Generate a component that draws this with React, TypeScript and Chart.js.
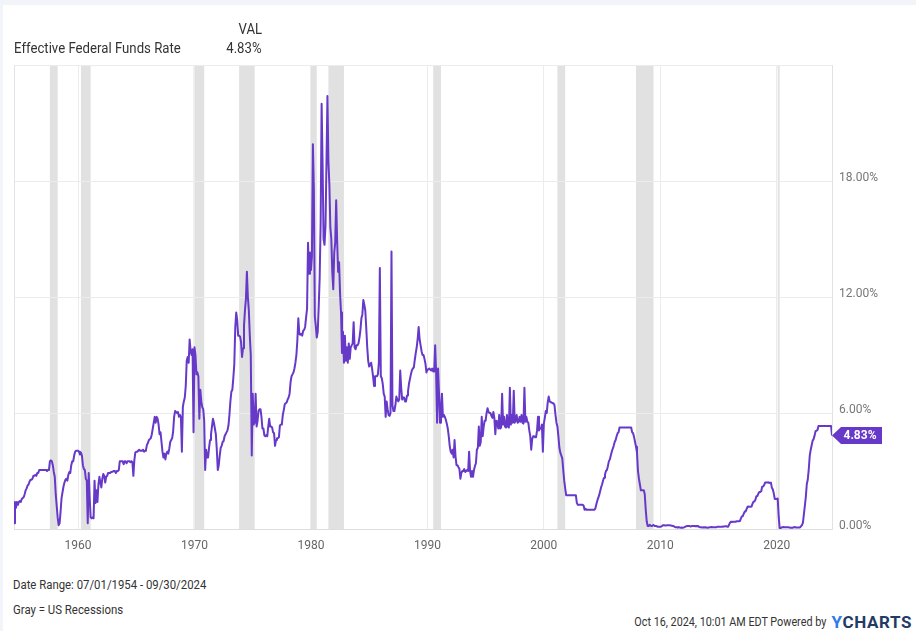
import React, { useEffect, useRef } from 'react';
import { Chart, registerables } from 'chart.js';

Chart.register(...registerables);

// ---------- data ----------
const seriesName = 'Effective Federal Funds Rate';
const seriesStart = '1954-07';
const latestDate = '2024-09-30';
const latestValue = 4.83;

// monthly readings, 1954-07 .. 1959-12
const rates1950s = [
  0.30, 1.40, 1.10, 1.40, 1.25, 1.40,
  1.45, 1.40, 1.55, 1.60, 1.65, 1.80, 2.00, 2.10, 2.25, 2.30, 2.45, 2.55,
  2.55, 2.60, 2.75, 2.75, 2.80, 2.75, 2.90, 2.90, 3.05, 3.05, 3.05, 3.05,
  3.05, 3.05, 3.05, 3.05, 3.00, 3.05, 3.05, 3.50, 3.55, 3.50, 3.30, 2.95,
  2.70, 1.80, 1.20, 0.60, 0.20, 0.30, 0.90, 1.60, 1.90, 2.20, 2.40, 2.55,
  2.60, 2.50, 2.80, 2.95, 2.90, 3.30, 3.50, 3.50, 3.80, 4.00, 4.05, 4.05,
];
const rates1960s = [
  4.05, 4.00, 3.85, 3.95, 3.80, 3.30, 3.10, 3.05, 2.60, 2.50, 0.30, 2.90,
  1.60, 0.60, 0.55, 0.60, 0.55, 2.50, 1.35, 2.00, 1.40, 2.30, 2.70, 2.40,
  2.15, 2.60, 2.85, 2.75, 2.40, 2.70, 2.75, 2.90, 2.90, 2.90, 2.95, 2.95,
  2.95, 3.00, 3.00, 2.90, 3.00, 3.00, 3.05, 3.50, 3.50, 3.50, 3.50, 3.35,
  3.50, 3.50, 3.40, 3.50, 3.50, 3.50, 3.45, 3.50, 3.45, 2.75, 3.55, 3.95,
  4.00, 4.00, 4.05, 4.10, 4.05, 4.05, 4.05, 4.10, 4.00, 4.05, 4.10, 4.35,
  4.45, 4.60, 4.65, 4.70, 4.90, 5.20, 5.50, 5.80, 5.50, 5.80, 5.70, 5.40,
  4.90, 5.00, 4.50, 4.00, 3.70, 3.90, 3.60, 3.90, 4.00, 3.90, 4.15, 4.50,
  4.60, 4.70, 5.05, 5.80, 6.10, 6.05, 6.00, 6.05, 5.80, 5.90, 5.80, 4.00,
  6.30, 6.60, 6.80, 7.40, 8.70, 8.90, 8.60, 9.80, 9.20, 9.00, 9.30, 5.00,
];
const rates1970s = [
  9.40, 9.00, 8.00, 8.10, 7.90, 5.70, 7.20, 6.60, 6.30, 6.20, 5.60, 3.05,
  4.10, 3.70, 3.70, 4.20, 4.60, 4.90, 5.30, 5.70, 5.50, 5.20, 4.90, 4.10,
  3.05, 3.30, 3.80, 4.20, 4.30, 4.50, 4.55, 4.80, 4.90, 5.00, 5.10, 5.35,
  5.90, 6.60, 7.10, 7.20, 7.80, 8.50, 10.40, 11.20, 10.80, 10.00, 10.00, 9.95,
  9.65, 8.90, 9.35, 10.50, 11.30, 11.90, 13.30, 12.00, 11.30, 10.00, 9.00, 3.80,
  7.00, 5.40, 5.50, 7.00, 5.30, 5.60, 6.10, 6.20, 6.20, 5.80, 5.20, 5.20,
  4.85, 4.80, 4.85, 4.80, 5.30, 5.70, 5.30, 5.30, 5.25, 5.00, 4.95, 4.30,
  4.60, 4.70, 4.70, 4.75, 5.35, 5.40, 5.40, 5.90, 6.15, 6.45, 6.50, 6.55,
  6.70, 6.80, 7.00, 7.60, 7.90, 8.00, 8.10, 8.30, 8.60, 9.00, 9.75, 10.90,
  10.10, 10.05, 10.10, 10.00, 10.25, 10.30, 10.45, 10.95, 11.40, 14.80, 13.20, 14.30,
];
const rates1980s = [
  13.40, 14.10, 19.90, 17.60, 11.00, 10.50, 9.90, 10.20, 11.50, 13.00, 15.80, 22.00,
  18.90, 15.00, 14.70, 15.70, 18.90, 22.40, 19.00, 17.80, 15.60, 15.00, 13.30, 12.40,
  14.30, 14.80, 17.00, 14.90, 13.30, 13.80, 12.20, 11.20, 9.10, 10.20, 8.60, 10.00,
  8.70, 9.40, 8.60, 9.60, 8.80, 9.40, 9.50, 9.60, 10.70, 9.40, 9.30, 9.50,
  9.50, 9.60, 9.90, 10.30, 10.90, 11.10, 11.85, 11.60, 11.30, 10.40, 9.40, 8.70,
  8.40, 8.50, 8.60, 8.30, 7.90, 7.40, 7.90, 7.90, 7.90, 8.00, 8.60, 13.50,
  7.90, 7.80, 7.50, 7.00, 6.85, 5.80, 6.60, 6.20, 5.90, 5.85, 6.00, 14.35,
  6.40, 6.10, 6.10, 6.40, 6.85, 6.70, 6.60, 6.70, 8.20, 7.30, 6.70, 6.80,
  6.80, 6.60, 6.60, 6.90, 7.10, 7.50, 7.75, 8.00, 8.20, 8.30, 8.35, 8.75,
  9.10, 9.40, 9.85, 10.45, 9.80, 9.50, 9.20, 9.00, 9.00, 8.80, 8.55, 8.10,
];
const rates1990s = [
  8.25, 8.25, 8.30, 8.25, 8.20, 8.30, 8.15, 8.15, 9.50, 8.10, 5.50, 8.30,
  7.00, 5.50, 6.20, 7.00, 5.80, 5.90, 5.80, 5.65, 5.45, 5.20, 4.80, 4.30,
  4.00, 3.90, 4.10, 3.70, 4.60, 3.75, 3.30, 3.30, 3.20, 3.10, 2.60, 2.90,
  3.00, 3.00, 3.10, 2.95, 3.00, 3.05, 3.00, 4.00, 3.00, 2.70, 3.00, 2.70,
  3.05, 3.25, 3.40, 4.10, 4.20, 5.30, 4.30, 4.50, 5.80, 4.80, 5.30, 5.60,
  5.60, 6.00, 6.25, 6.05, 6.00, 6.00, 5.85, 5.75, 6.05, 5.75, 4.90, 5.60,
  5.55, 5.20, 5.90, 5.20, 5.25, 7.00, 5.40, 5.80, 5.30, 5.25, 5.90, 5.30,
  5.25, 7.30, 5.40, 5.90, 5.50, 7.15, 5.50, 5.60, 5.90, 5.50, 5.55, 5.80,
  5.55, 5.90, 5.50, 5.45, 7.30, 5.55, 5.80, 5.55, 5.50, 5.10, 4.80, 4.10,
  4.65, 4.80, 4.80, 4.75, 4.75, 5.10, 5.80, 5.10, 5.20, 5.20, 5.40, 4.00,
];
const rates2000s = [
  5.45, 5.75, 6.10, 6.00, 6.55, 6.85, 6.60, 6.55, 6.55, 6.50, 6.50, 6.40,
  5.90, 5.50, 5.30, 4.80, 4.20, 3.95, 3.80, 3.65, 3.05, 2.50, 2.10, 1.75,
  1.75, 1.75, 1.75, 1.75, 1.75, 1.75, 1.75, 1.75, 1.75, 1.75, 1.35, 1.25,
  1.25, 1.25, 1.25, 1.25, 1.25, 1.20, 1.00, 1.05, 1.00, 1.00, 1.00, 1.00,
  1.00, 1.00, 1.00, 1.00, 1.00, 1.05, 1.25, 1.45, 1.60, 1.75, 1.95, 2.15,
  2.30, 2.50, 2.65, 2.80, 3.00, 3.05, 3.25, 3.50, 3.60, 3.80, 4.00, 4.15,
  4.30, 4.50, 4.60, 4.80, 4.95, 5.00, 5.25, 5.25, 5.25, 5.25, 5.25, 5.25,
  5.25, 5.25, 5.25, 5.25, 5.25, 5.25, 5.25, 5.00, 4.95, 4.75, 4.50, 4.25,
  3.95, 3.00, 2.60, 2.30, 2.00, 2.00, 2.00, 2.00, 1.80, 1.00, 0.40, 0.15,
  0.15, 0.22, 0.18, 0.15, 0.18, 0.21, 0.16, 0.16, 0.15, 0.12, 0.12, 0.12,
];
const rates2010s = [
  0.11, 0.13, 0.16, 0.20, 0.20, 0.18, 0.18, 0.19, 0.19, 0.19, 0.19, 0.18,
  0.17, 0.16, 0.14, 0.10, 0.09, 0.09, 0.07, 0.10, 0.08, 0.07, 0.08, 0.07,
  0.08, 0.10, 0.13, 0.14, 0.16, 0.16, 0.16, 0.13, 0.14, 0.16, 0.16, 0.16,
  0.14, 0.15, 0.14, 0.15, 0.11, 0.09, 0.09, 0.08, 0.08, 0.09, 0.08, 0.09,
  0.07, 0.07, 0.08, 0.09, 0.09, 0.10, 0.09, 0.09, 0.09, 0.09, 0.09, 0.12,
  0.11, 0.11, 0.11, 0.12, 0.12, 0.13, 0.13, 0.14, 0.14, 0.12, 0.12, 0.24,
  0.34, 0.38, 0.36, 0.37, 0.37, 0.38, 0.39, 0.40, 0.40, 0.40, 0.41, 0.54,
  0.65, 0.66, 0.79, 0.90, 0.91, 1.04, 1.15, 1.16, 1.15, 1.15, 1.16, 1.30,
  1.41, 1.42, 1.51, 1.69, 1.70, 1.82, 1.91, 1.91, 1.95, 2.19, 2.20, 2.27,
  2.40, 2.40, 2.41, 2.42, 2.39, 2.38, 2.40, 2.13, 2.04, 1.83, 1.55, 1.55,
];
// 2020-01 .. 2024-09
const rates2020s = [
  1.55, 1.58, 0.65, 0.05, 0.05, 0.08, 0.09, 0.10, 0.09, 0.09, 0.09, 0.09,
  0.09, 0.08, 0.07, 0.07, 0.06, 0.08, 0.10, 0.09, 0.08, 0.08, 0.08, 0.08,
  0.08, 0.08, 0.20, 0.33, 0.77, 1.21, 1.68, 2.33, 2.56, 3.08, 3.78, 4.10,
  4.33, 4.57, 4.65, 4.83, 5.06, 5.08, 5.12, 5.33, 5.33, 5.33, 5.33, 5.33,
  5.33, 5.33, 5.33, 5.33, 5.33, 5.33, 5.33, 5.33, 5.33,
];

const recessionStarts = ['1957-08', '1960-04', '1969-12', '1973-11', '1980-01', '1981-07', '1990-07', '2001-03', '2007-12', '2020-02'];
const recessionEnds = ['1958-04', '1961-02', '1970-11', '1975-03', '1980-07', '1982-11', '1991-03', '2001-11', '2009-06', '2020-04'];

const xTickYears = [1960, 1970, 1980, 1990, 2000, 2010, 2020];
const yTickValues = [0, 6, 12, 18, 24];

// ---------- styles ----------
const PURPLE = '#6639c9';
const RECESSION = '#e1e1e1';
const GRID = '#ececec';
const FONT = 'Roboto, "Noto Sans", Arial, sans-serif';

function toYear(s: string): number {
  const [y, m, d] = s.split('-').map(Number);
  return y + ((m || 1) - 1) / 12 + (d ? (d - 1) / 365 : 0);
}

function buildPoints() {
  const all = [...rates1950s, ...rates1960s, ...rates1970s, ...rates1980s, ...rates1990s, ...rates2000s, ...rates2010s, ...rates2020s];
  const start = toYear(seriesStart);
  const pts = all.map((v, i) => ({ x: start + i / 12, y: v }));
  pts.push({ x: toYear(latestDate), y: latestValue });
  return pts;
}

const recessionPlugin = {
  id: 'recessionBands',
  beforeDraw(chart: any) {
    const { ctx, chartArea, scales } = chart;
    const x = scales.x;
    ctx.save();
    ctx.fillStyle = RECESSION;
    recessionStarts.forEach((s, i) => {
      const x0 = x.getPixelForValue(toYear(s));
      const x1 = x.getPixelForValue(toYear(recessionEnds[i]));
      ctx.fillRect(x0, chartArea.top, x1 - x0, chartArea.bottom - chartArea.top);
    });
    ctx.restore();
  },
};

const framePlugin = {
  id: 'leftFrame',
  beforeDatasetsDraw(chart: any) {
    const { ctx, chartArea } = chart;
    ctx.save();
    ctx.strokeStyle = '#e2e2e2';
    ctx.lineWidth = 1;
    ctx.beginPath();
    ctx.moveTo(chartArea.left + 0.5, chartArea.top);
    ctx.lineTo(chartArea.left + 0.5, chartArea.bottom);
    ctx.stroke();
    ctx.restore();
  },
};

const badgePlugin = {
  id: 'lastBadge',
  afterDatasetsDraw(chart: any) {
    const { ctx, chartArea, scales } = chart;
    const yp = scales.y.getPixelForValue(latestValue);
    const xr = chartArea.right;
    ctx.save();
    ctx.fillStyle = PURPLE;
    ctx.beginPath();
    ctx.moveTo(xr, yp);
    ctx.lineTo(xr + 9, yp - 8.5);
    ctx.lineTo(xr + 50, yp - 8.5);
    ctx.lineTo(xr + 50, yp + 8.5);
    ctx.lineTo(xr + 9, yp + 8.5);
    ctx.closePath();
    ctx.fill();
    ctx.fillStyle = '#ffffff';
    ctx.font = `bold 12px ${FONT}`;
    ctx.textAlign = 'center';
    ctx.textBaseline = 'middle';
    ctx.fillText(`${latestValue.toFixed(2)}%`, xr + 28, yp + 0.5);
    ctx.restore();
  },
};

function RateChart() {
  const ref = useRef<HTMLCanvasElement | null>(null);
  useEffect(() => {
    if (!ref.current) return;
    const chart = new Chart(ref.current, {
      type: 'line',
      data: {
        datasets: [
          {
            label: seriesName,
            data: buildPoints(),
            borderColor: PURPLE,
            borderWidth: 2,
            pointRadius: 0,
            tension: 0,
            fill: false,
            borderJoinStyle: 'round',
          },
        ],
      },
      options: {
        animation: false,
        responsive: false,
        maintainAspectRatio: false,
        layout: { padding: { left: 14, top: 65, right: 0, bottom: 0 } },
        plugins: { legend: { display: false }, tooltip: { enabled: false } },
        scales: {
          x: {
            type: 'linear',
            min: toYear(seriesStart),
            max: toYear(latestDate),
            afterBuildTicks: (s: any) => {
              s.ticks = xTickYears.map((v) => ({ value: v }));
            },
            afterFit: (s: any) => {
              s.height = 31;
            },
            ticks: {
              callback: (v: any) => String(v),
              color: '#666666',
              font: { family: FONT, size: 12 },
              padding: 10,
              maxRotation: 0,
              autoSkip: false,
            },
            grid: { color: GRID, drawTicks: false },
            border: { color: '#dddddd' },
          },
          y: {
            type: 'linear',
            position: 'right',
            min: 0,
            max: 24,
            afterBuildTicks: (s: any) => {
              s.ticks = yTickValues.map((v) => ({ value: v }));
            },
            afterFit: (s: any) => {
              s.width = 84;
            },
            ticks: {
              callback: (v: any) => (v === 24 ? '' : `${Number(v).toFixed(2)}%`),
              color: '#777777',
              font: { family: FONT, size: 12 },
              padding: 7,
              labelOffset: -3,
              autoSkip: false,
            },
            grid: { color: GRID, drawTicks: false },
            border: { color: '#e2e2e2' },
          },
        },
      },
      plugins: [recessionPlugin, framePlugin, badgePlugin],
    } as any);
    return () => chart.destroy();
  }, []);
  return <canvas ref={ref} width={916} height={560} style={{ position: 'absolute', left: 0, top: 0, width: 916, height: 560 }} />;
}

export default function App() {
  const text: React.CSSProperties = { position: 'absolute', fontFamily: FONT, color: '#333333', whiteSpace: 'nowrap' };
  const narrowL: React.CSSProperties = { transformOrigin: 'left center' };
  const narrowR: React.CSSProperties = { transformOrigin: 'right center' };
  return (
    <div style={{ position: 'absolute', left: 0, top: 0, width: 916, height: 631, background: '#f1f4f8', overflow: 'hidden' }}>
      <div style={{ position: 'absolute', left: 3, top: 5, right: 0, bottom: 0, background: '#ffffff' }} />
      <RateChart />
      <div style={{ ...text, ...narrowR, right: 654, top: 21, fontSize: 14, lineHeight: '16px', transform: 'scaleX(0.94)' }}>VAL</div>
      <div style={{ ...text, ...narrowL, left: 14, top: 40, fontSize: 14, lineHeight: '16px', transform: 'scaleX(0.943)' }}>{seriesName}</div>
      <div style={{ ...text, ...narrowR, right: 654, top: 40, fontSize: 14, lineHeight: '16px', transform: 'scaleX(0.94)' }}>{`${latestValue.toFixed(2)}%`}</div>
      <div style={{ ...text, ...narrowL, left: 13, top: 577, fontSize: 12, lineHeight: '16px', transform: 'scaleX(0.947)' }}>Date Range: 07/01/1954 - 09/30/2024</div>
      <div style={{ ...text, ...narrowL, left: 13, top: 602, fontSize: 12, lineHeight: '16px', transform: 'scaleX(0.95)' }}>Gray = US Recessions</div>
      <div style={{ ...text, ...narrowR, right: 4, top: 612, lineHeight: '20px', display: 'flex', alignItems: 'center' }}>
        <span style={{ fontSize: 12, display: 'inline-block', transform: 'scaleX(0.9)', transformOrigin: 'right center' }}>Oct 16, 2024, 10:01 AM EDT Powered by</span>
        <span style={{ marginLeft: 5, fontSize: 17, fontWeight: 700, letterSpacing: 0.6 }}>
          <span style={{ color: '#2f7bea' }}>Y</span>
          <span style={{ color: '#1f3b66' }}>CHARTS</span>
        </span>
      </div>
    </div>
  );
}
